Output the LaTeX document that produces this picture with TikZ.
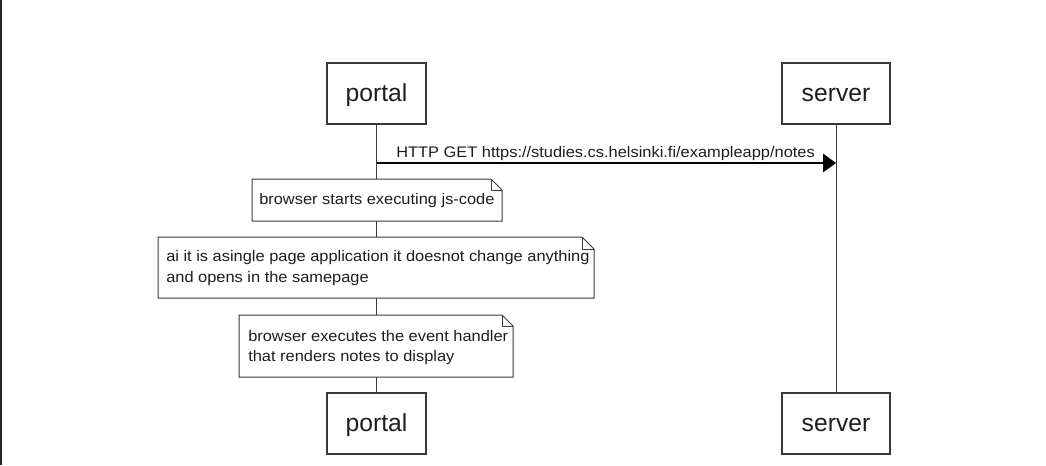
\documentclass[tikz,border=0pt]{standalone}
\usepackage{fontspec}
\setmainfont{Liberation Sans}
\newfontfamily\notefont[FakeStretch=1.07]{Liberation Sans}
\usetikzlibrary{arrows.meta}
\definecolor{linec}{HTML}{3A3A3A}
\definecolor{textc}{HTML}{1E1E1E}
\tikzset{
  x=0.75pt, y=-0.75pt,
  pbox/.style={draw=linec, line width=0.8pt, fill=white, minimum width=#1, minimum height=45.75pt,
    inner sep=0pt, text=textc, font=\fontsize{18.5}{22}\selectfont, text height=13pt, text depth=1pt},
  lifeline/.style={draw=linec, line width=0.75pt},
  notebg/.style={draw=linec, line width=0.75pt, fill=white},
  notetext/.style={anchor=base west, inner sep=0pt, text=textc, font=\notefont\fontsize{11.5}{15}\selectfont},
  msg/.style={draw=black, line width=0.8pt, -{Triangle[length=9.75pt, width=14pt]}},
}
\begin{document}
\begin{tikzpicture}
\useasboundingbox (0,0) rectangle (1046,465);
\fill[white] (0,0) rectangle (1046,465);
\draw[line width=1.5pt, black!85] (0.8,0) -- (0.8,465);

% participants
\node[pbox=74.25pt] (ptop) at (376.5,93.5) {portal};
\node[pbox=81pt] (stop) at (836,93.5) {server};
\node[pbox=74.25pt] (pbot) at (376.5,423.5) {portal};
\node[pbox=81pt] (sbot) at (836,423.5) {server};

% lifelines
\draw[lifeline] (ptop.south) -- (pbot.north);
\draw[lifeline] (stop.south) -- (sbot.north);

% message
\coordinate (m1) at (376.5,163);
\coordinate (m2) at (836,163);
\draw[msg] (m1) -- (m2);
\node[notetext] (mlab) at (396,157) {HTTP GET https://studies.cs.helsinki.fi/exampleapp/notes};

% note 1
\draw[notebg] (252,179) -- (491,179) -- (502,190) -- (502,221) -- (252,221) -- cycle;
\draw[notebg, fill=none] (491,179) -- (491,190) -- (502,190);
\node[notetext] (n1) at (259,204) {browser starts executing js-code};

% note 2
\draw[notebg] (158,237) -- (582,237) -- (594,249) -- (594,298) -- (158,298) -- cycle;
\draw[notebg, fill=none] (582,237) -- (582,249) -- (594,249);
\node[notetext] (n2a) at (166,261.5) {ai it is asingle page application it doesnot change anything};
\node[notetext] (n2b) at (166,282) {and opens in the samepage};

% note 3
\draw[notebg] (239,315) -- (502,315) -- (513,326) -- (513,377) -- (239,377) -- cycle;
\draw[notebg, fill=none] (502,315) -- (502,326) -- (513,326);
\node[notetext] (n3a) at (248,341) {browser executes the event handler};
\node[notetext] (n3b) at (248,361.5) {that renders notes to display};
\end{tikzpicture}
\end{document}
